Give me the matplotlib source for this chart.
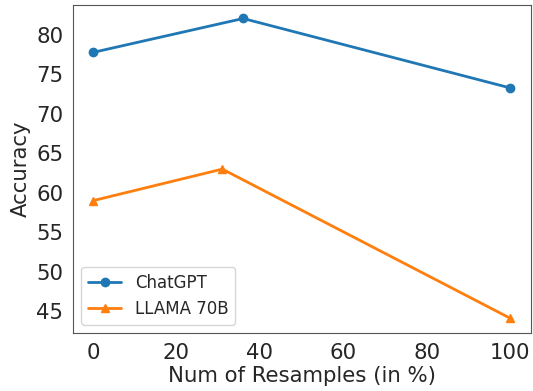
import matplotlib
matplotlib.use("Agg")
import matplotlib.pyplot as plt
import seaborn as sns

sns.set_style("white")
plt.rcParams['font.family'] = ['DejaVu Sans']

chatgpt_x = [0, 36, 100]
chatgpt_acc = [77.8, 82.1, 73.3]
llama_x = [0, 31, 100]
llama_acc = [59.0, 63.0, 44.1]

fig, ax = plt.subplots(figsize=(5.33, 3.91), dpi=100)
ax.plot(chatgpt_x, chatgpt_acc, marker="o", color="#1f77b4", linewidth=2, markersize=6, label="ChatGPT")
ax.plot(llama_x, llama_acc, marker="^", color="#ff7f0e", linewidth=2, markersize=6, label="LLAMA 70B")

ax.set_xlabel("Num of Resamples (in %)", fontsize=15.3, color=".15", labelpad=2)
ax.set_ylabel("Accuracy", fontsize=15.3, color=".15")
ax.set_xticks([0, 20, 40, 60, 80, 100])
ax.set_yticks([45, 50, 55, 60, 65, 70, 75, 80])
ax.tick_params(labelsize=15.3, colors=".15")
ax.set_xlim(-4.8, 105)
ax.set_ylim(42.2, 83.8)
for s in ax.spines.values():
    s.set_color("#555555")
ax.legend(loc="lower left", fontsize=12)

plt.subplots_adjust(left=0.137, right=0.996, top=0.987, bottom=0.148)
plt.savefig("out.png")
